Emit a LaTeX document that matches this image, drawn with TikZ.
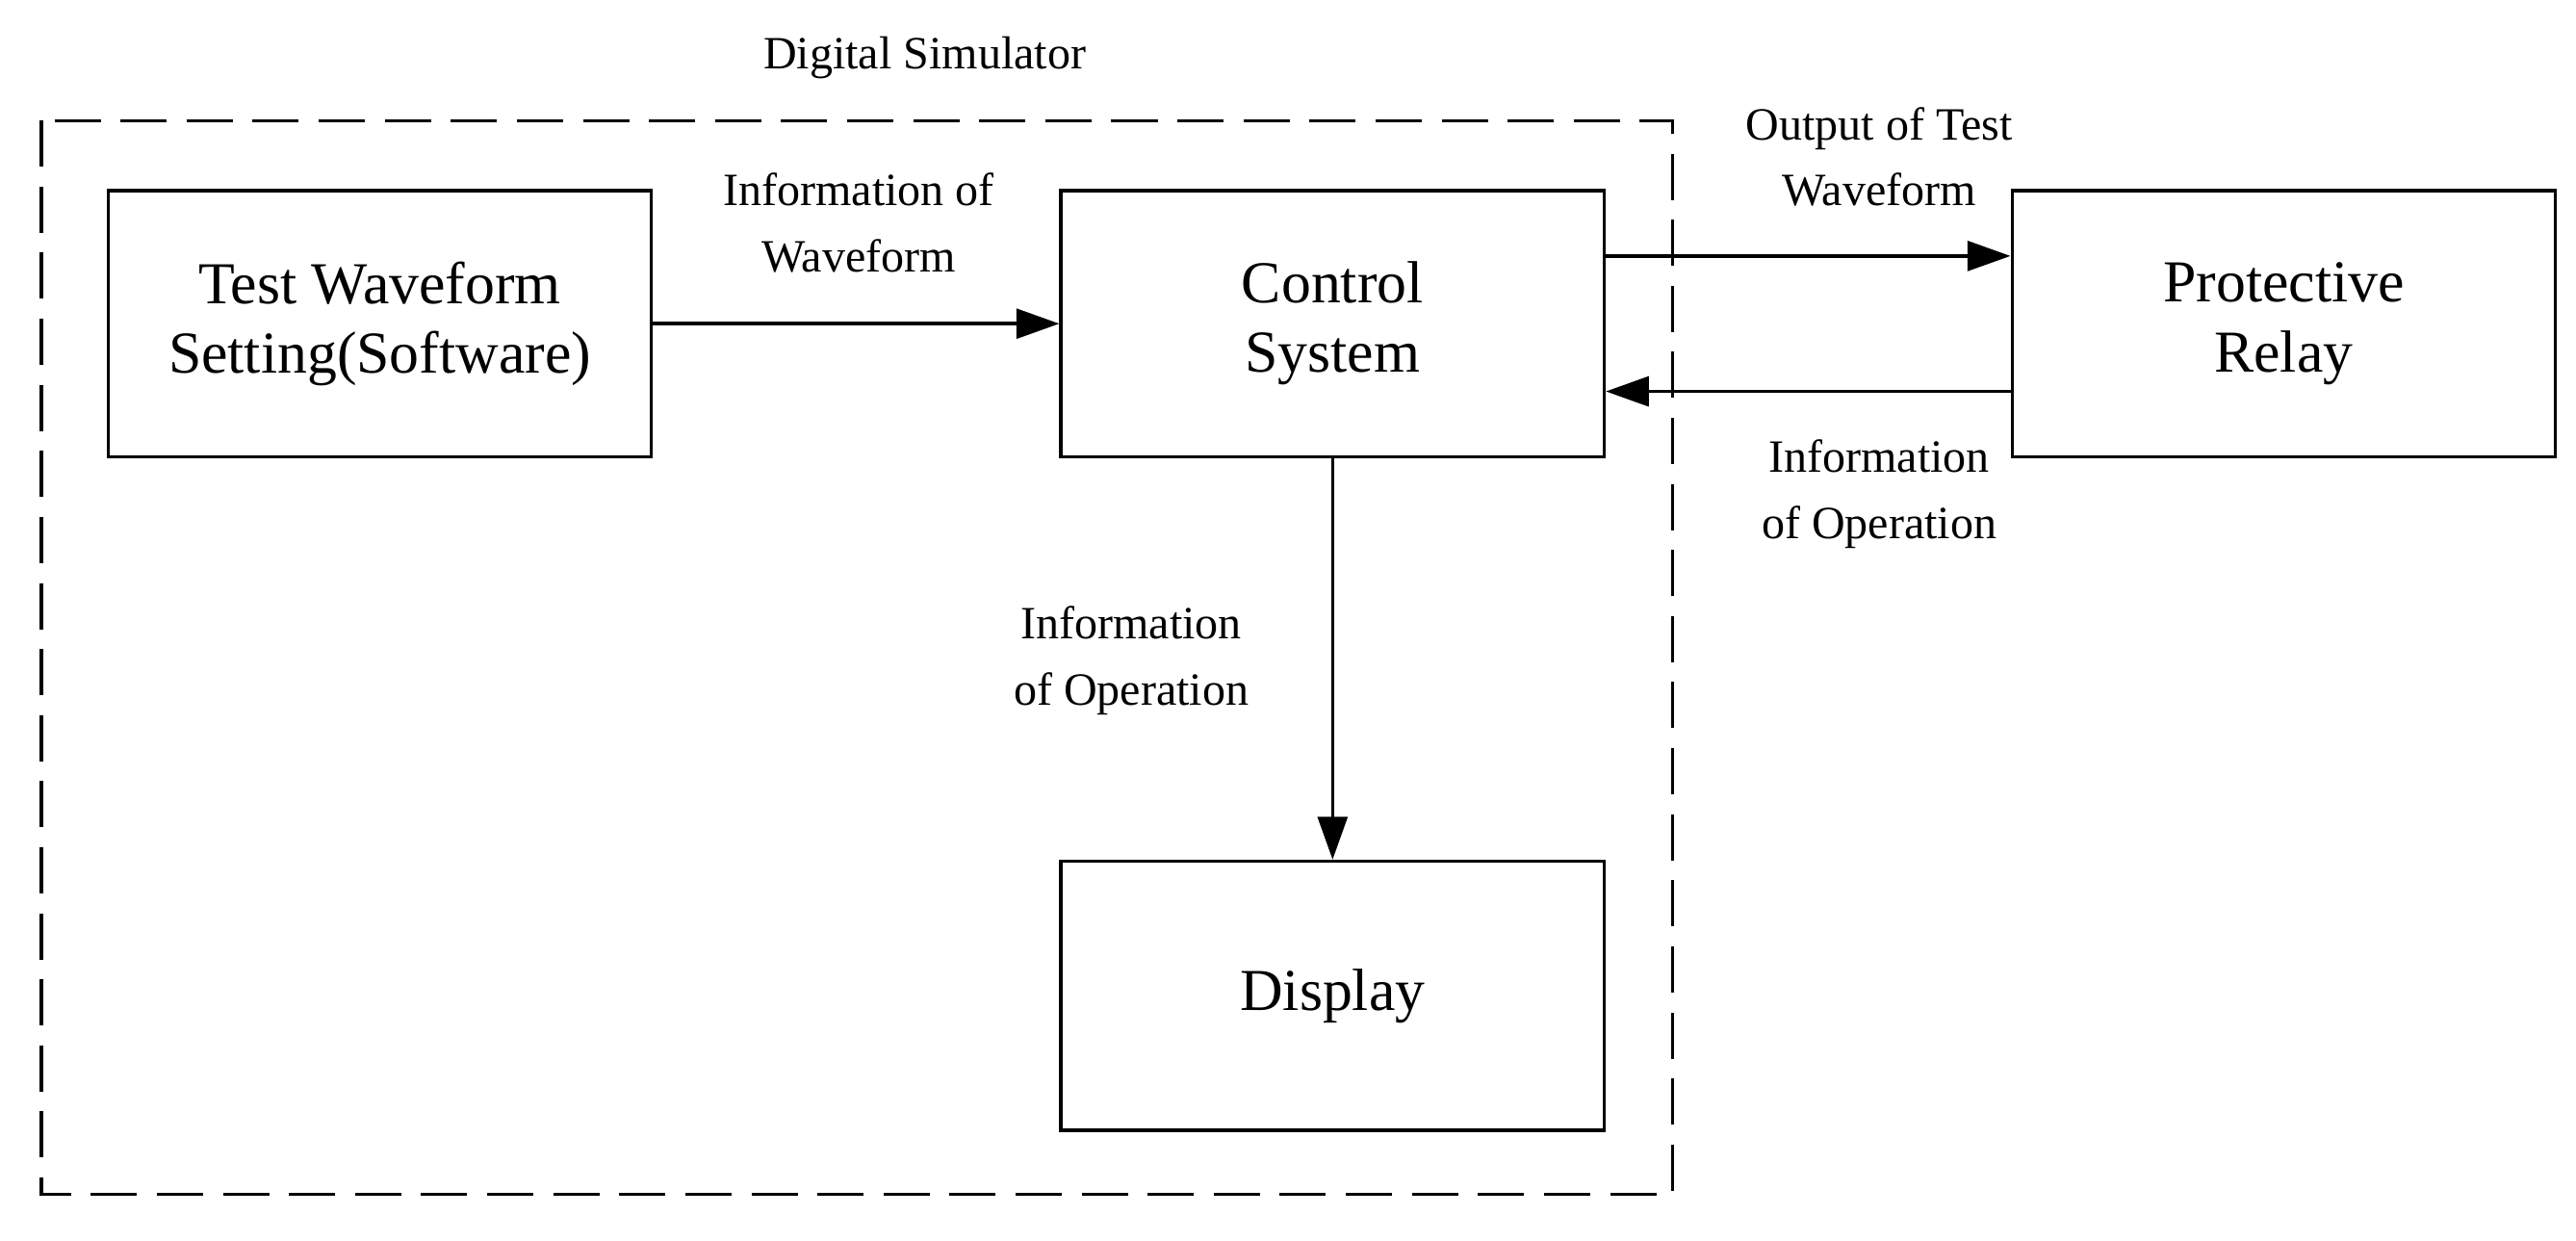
\documentclass[tikz,border=0pt]{standalone}
\usepackage{fontspec}
\setmainfont{Liberation Serif}
\usetikzlibrary{arrows.meta}
\begin{document}
\begin{tikzpicture}[x=1pt,y=-1pt,
  box/.style={draw,line width=2pt,minimum width=329pt,minimum height=161pt,align=center,font=\fontsize{36}{42}\selectfont},
  lbl/.style={align=center,font=\fontsize{28}{40}\selectfont},
  arr/.style={line width=2pt,-{Triangle[length=26pt,width=18pt]}}]
\useasboundingbox (0,0) rectangle (1560,751);
\draw[line width=2pt,dash pattern=on 28pt off 12pt] (25,73) rectangle (1013,723);
\node[lbl] (ds) at (560,35) {Digital Simulator};
\node[box] (tw) at (230,196) {Test Waveform\\Setting(Software)};
\node[box] (cs) at (807,196) {Control\\System};
\node[box] (pr) at (1383,196) {Protective\\Relay};
\node[box,minimum height=163pt] (dp) at (807,603) {Display};
\draw[arr] (tw.east) -- (cs.west);
\coordinate (c1) at (cs.east |- 0,155);
\coordinate (r1) at (pr.west |- 0,155);
\coordinate (c2) at (cs.east |- 0,237);
\coordinate (r2) at (pr.west |- 0,237);
\draw[arr] (c1) -- (r1);
\draw[arr] (r2) -- (c2);
\draw[arr] (cs.south) -- (dp.north);
\node[lbl] (l1) at (520,135) {Information of\\Waveform};
\node[lbl] (l2) at (1138,95) {Output of Test\\Waveform};
\node[lbl] (l3) at (1138,299) {Information\\of Operation};
\node[lbl] (l4) at (685,400) {Information\\of Operation};
\end{tikzpicture}
\end{document}
